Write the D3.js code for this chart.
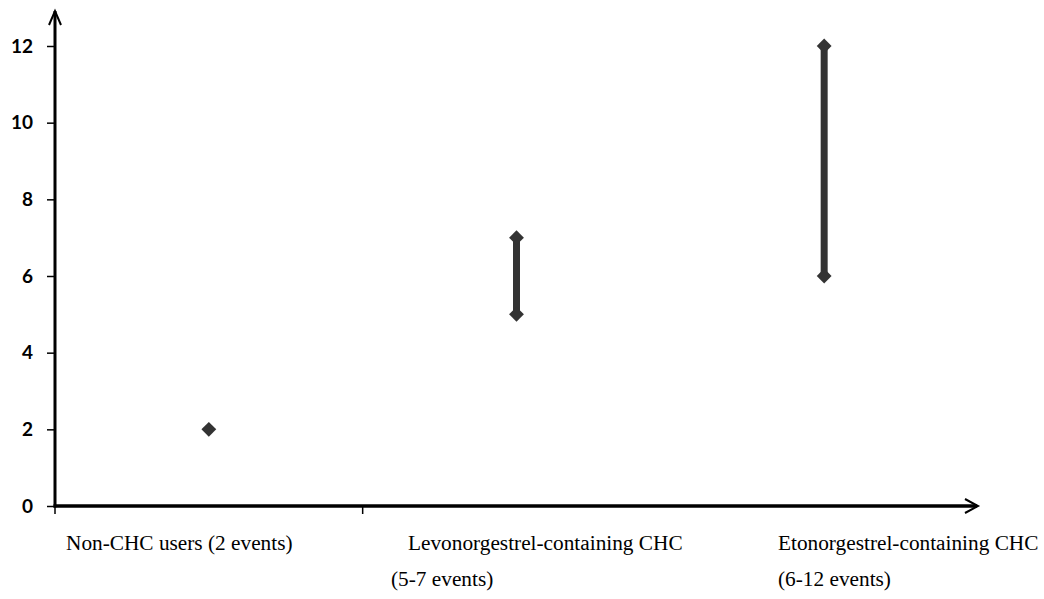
<!DOCTYPE html>
<html>
<head>
<meta charset="utf-8">
<script src="https://cdn.jsdelivr.net/npm/d3@7"></script>
<style>
  body { margin: 0; background: #fff; }
  .ylab text { font-family: Lato, "Open Sans", sans-serif; font-weight: 700; font-size: 19px; fill: #000; }
  .catlab { font-family: "Liberation Serif", "Times New Roman", serif; font-size: 21.3px; fill: #000; }
</style>
</head>
<body>
<div id="chart"></div>
<script>
// data
const categories = ["Non-CHC users", "Levonorgestrel-containing CHC", "Etonorgestrel-containing CHC"];
const labelLine1 = ["Non-CHC users (2 events)", "Levonorgestrel-containing CHC", "Etonorgestrel-containing CHC"];
const labelLine2 = ["", "(5-7 events)", "(6-12 events)"];
const lowValues = [2, 5, 6];
const highValues = [2, 7, 12];
const yTicks = [0, 2, 4, 6, 8, 10, 12];

const width = 1044, height = 599;
const plotLeft = 55, plotRight = 978, plotBottom = 506, plotTop = 46;

const svg = d3.select("#chart").append("svg")
    .attr("width", width)
    .attr("height", height);

const x = d3.scaleBand().domain(categories).range([plotLeft, plotRight]);
const y = d3.scaleLinear().domain([0, 12]).range([plotBottom, plotTop]);

// y ticks + labels
const yAxis = svg.append("g").attr("class", "ylab")
    .attr("transform", `translate(${plotLeft},0)`)
    .call(d3.axisLeft(y).tickValues(yTicks).tickSize(8).tickPadding(14).tickFormat(d3.format("d")));
yAxis.select(".domain").remove();
yAxis.selectAll(".tick line").attr("stroke", "#000").attr("stroke-width", 1.5);

// axis lines with open arrow heads
const axisColor = "#000";
svg.append("line")
    .attr("x1", plotLeft).attr("y1", plotBottom + 1.5)
    .attr("x2", plotLeft).attr("y2", 11)
    .attr("stroke", axisColor).attr("stroke-width", 3);
svg.append("path")
    .attr("d", `M${plotLeft - 6},${25} L${plotLeft},${11} L${plotLeft + 6},${25}`)
    .attr("fill", "none").attr("stroke", axisColor).attr("stroke-width", 2);

svg.append("line")
    .attr("x1", plotLeft - 1.5).attr("y1", plotBottom)
    .attr("x2", 977).attr("y2", plotBottom)
    .attr("stroke", axisColor).attr("stroke-width", 3.5);
svg.append("path")
    .attr("d", `M${965},${plotBottom - 7} L${978},${plotBottom} L${965},${plotBottom + 7}`)
    .attr("fill", "none").attr("stroke", axisColor).attr("stroke-width", 2);

// x ticks (only first two band edges shown in original)
svg.selectAll("line.xtick")
    .data(categories.slice(0, 2))
    .join("line").attr("class", "xtick")
    .attr("x1", d => x(d)).attr("x2", d => x(d))
    .attr("y1", plotBottom).attr("y2", plotBottom + 8)
    .attr("stroke", axisColor).attr("stroke-width", 1.5);

// ranges
const markColor = "#333";
const rows = categories.map((c, i) => ({c, lo: lowValues[i], hi: highValues[i]}));
const cx = d => x(d.c) + x.bandwidth() / 2;

svg.selectAll("line.range")
    .data(rows.filter(d => d.hi > d.lo))
    .join("line").attr("class", "range")
    .attr("x1", cx).attr("x2", cx)
    .attr("y1", d => y(d.lo)).attr("y2", d => y(d.hi))
    .attr("stroke", markColor).attr("stroke-width", 7);

const pts = [];
rows.forEach(d => {
    pts.push({c: d.c, v: d.lo});
    if (d.hi !== d.lo) pts.push({c: d.c, v: d.hi});
});
const diamond = d3.symbol().type(d3.symbolSquare).size(110);
svg.selectAll("path.pt")
    .data(pts)
    .join("path").attr("class", "pt")
    .attr("d", diamond)
    .attr("transform", d => `translate(${cx(d)},${y(d.v)}) rotate(45)`)
    .attr("fill", markColor);

// category labels
const labX = [66, 408, 778];
const labX2 = [66, 391, 778];
svg.selectAll("text.l1")
    .data(labelLine1)
    .join("text").attr("class", "catlab l1")
    .attr("x", (d, i) => labX[i]).attr("y", 550)
    .text(d => d);
svg.selectAll("text.l2")
    .data(labelLine2)
    .join("text").attr("class", "catlab l2")
    .attr("x", (d, i) => labX2[i]).attr("y", 586)
    .text(d => d);
</script>
</body>
</html>
